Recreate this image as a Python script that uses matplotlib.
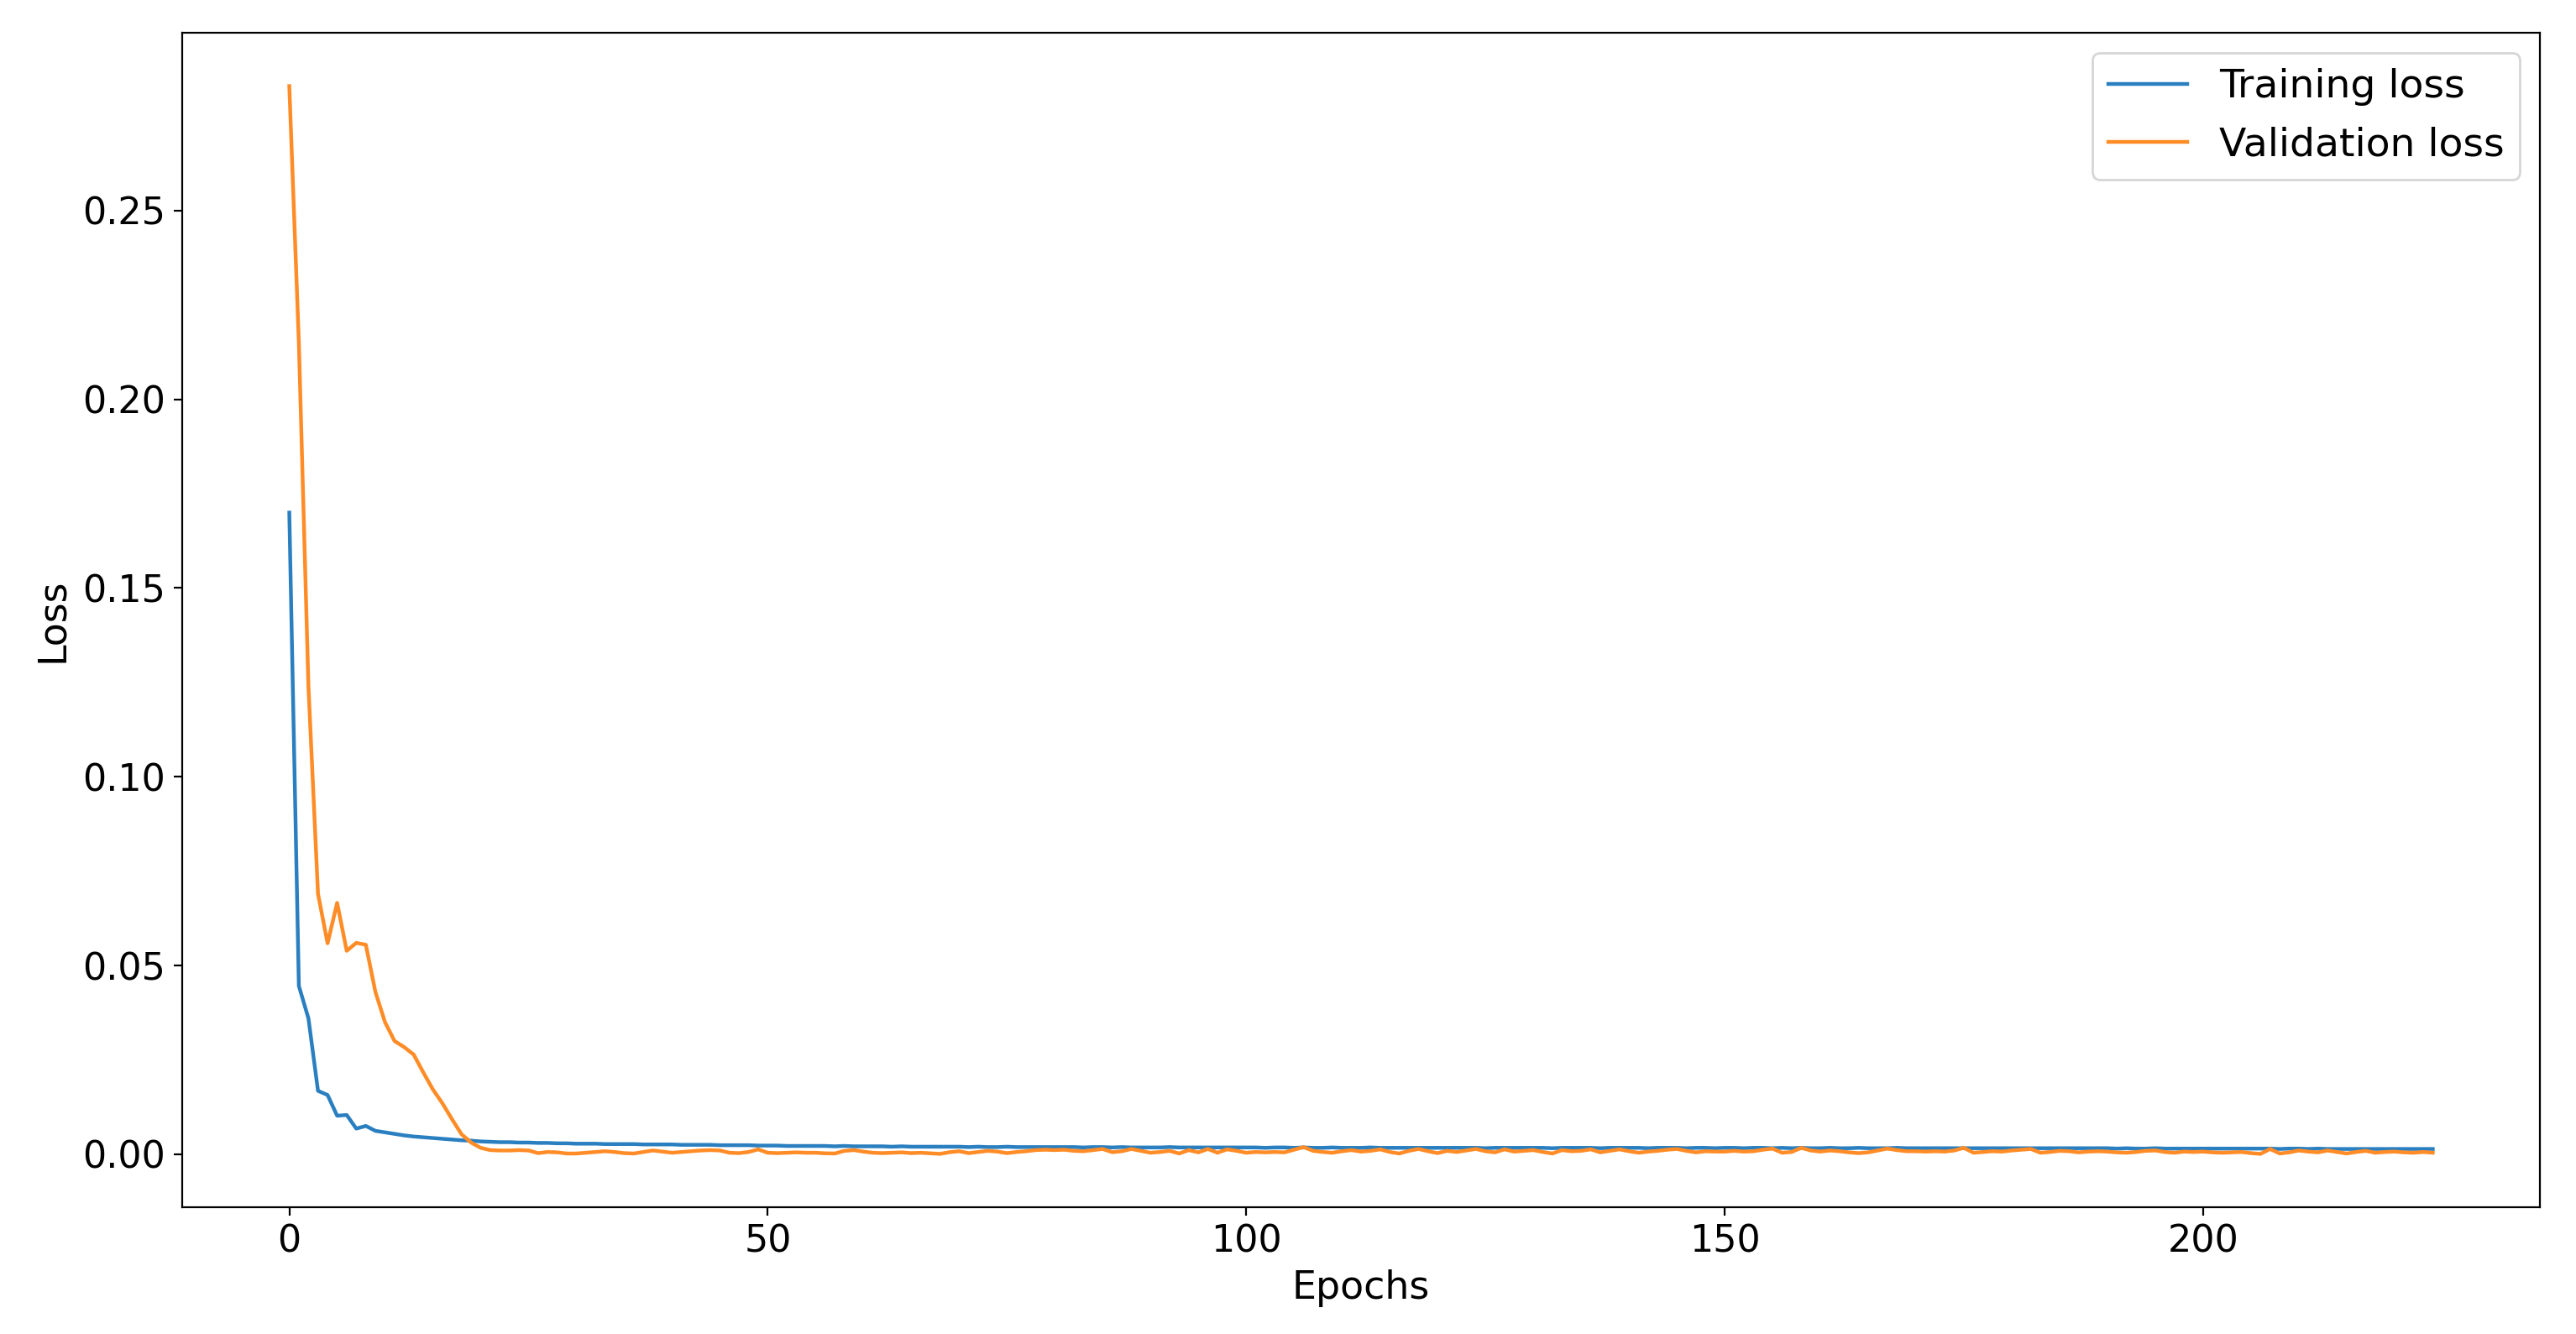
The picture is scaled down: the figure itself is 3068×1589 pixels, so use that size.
import numpy as np
import matplotlib
matplotlib.use('Agg')
import matplotlib.pyplot as plt

# 训练损失 (epoch 0-224)
train_loss = [
    0.170, 0.0446, 0.036, 0.0168, 0.0157, 0.0102, 0.0104, 0.0068, 0.0075, 0.0062,
    0.0058, 0.0054, 0.0050, 0.0047, 0.0045, 0.0043, 0.0041, 0.0039, 0.0037, 0.0036,
    0.0034, 0.0033, 0.0032, 0.0032, 0.0031, 0.0031, 0.0030, 0.0030, 0.0029, 0.0029,
    0.0028, 0.0028, 0.0028, 0.0027, 0.0027, 0.0027, 0.0027, 0.0026, 0.0026, 0.0026,
    0.0026, 0.0025, 0.0025, 0.0025, 0.0025, 0.0024, 0.0024, 0.0024, 0.0024, 0.0023,
    0.0023, 0.0023, 0.0022, 0.0022, 0.0022, 0.0022, 0.0022, 0.0021, 0.0022, 0.0021,
    0.0021, 0.0021, 0.0021, 0.0020, 0.0021, 0.0020, 0.0020, 0.0020, 0.0020, 0.0020,
    0.0020, 0.0019, 0.0020, 0.0019, 0.0019, 0.0020, 0.0019, 0.0019, 0.0019, 0.0019,
    0.0019, 0.0019, 0.0019, 0.0018, 0.0019, 0.0019, 0.0018, 0.0019, 0.0018, 0.0018,
    0.0018, 0.0018, 0.0019, 0.0018, 0.0018, 0.0018, 0.0018, 0.0018, 0.0018, 0.0018,
    0.0018, 0.0018, 0.0017, 0.0018, 0.0018, 0.0017, 0.0018, 0.0017, 0.0017, 0.0018,
    0.0017, 0.0017, 0.0017, 0.0018, 0.0017, 0.0017, 0.0017, 0.0017, 0.0017, 0.0017,
    0.0017, 0.0017, 0.0017, 0.0017, 0.0017, 0.0016, 0.0017, 0.0017, 0.0017, 0.0017,
    0.0017, 0.0017, 0.0016, 0.0017, 0.0017, 0.0017, 0.0017, 0.0016, 0.0017, 0.0017,
    0.0017, 0.0017, 0.0016, 0.0017, 0.0017, 0.0017, 0.0016, 0.0017, 0.0017, 0.0016,
    0.0017, 0.0017, 0.0016, 0.0017, 0.0017, 0.0016, 0.0017, 0.0016, 0.0017, 0.0016,
    0.0016, 0.0017, 0.0016, 0.0016, 0.0017, 0.0016, 0.0016, 0.0016, 0.0017, 0.0016,
    0.0016, 0.0016, 0.0016, 0.0016, 0.0016, 0.0016, 0.0016, 0.0016, 0.0016, 0.0016,
    0.0016, 0.0016, 0.0016, 0.0016, 0.0016, 0.0016, 0.0016, 0.0016, 0.0016, 0.0016,
    0.0016, 0.0015, 0.0016, 0.0015, 0.0015, 0.0016, 0.0015, 0.0015, 0.0015, 0.0015,
    0.0015, 0.0015, 0.0015, 0.0015, 0.0015, 0.0015, 0.0015, 0.0015, 0.0014, 0.0015,
    0.0015, 0.0014, 0.0015, 0.0014, 0.0014, 0.0014, 0.0014, 0.0014, 0.0014, 0.0014,
    0.0014, 0.0014, 0.0014, 0.0014, 0.0014,
]

# 验证损失 (epoch 0-224)
val_loss = [
    0.283, 0.215, 0.124, 0.069, 0.0559, 0.0666, 0.0539, 0.056, 0.0555, 0.043,
    0.035, 0.030, 0.0284, 0.0264, 0.0217, 0.0172, 0.0135, 0.0093, 0.0053, 0.0031,
    0.0017, 0.0011, 0.0010, 0.0010, 0.0011, 0.0010, 0.0003, 0.0006, 0.0005, 0.0002,
    0.0002, 0.0004, 0.0006, 0.0008, 0.0006, 0.0003, 0.0002, 0.0006, 0.0010, 0.0007,
    0.0004, 0.0006, 0.0008, 0.0010, 0.0011, 0.0010, 0.0004, 0.0003, 0.0006, 0.0013,
    0.0004, 0.0003, 0.0004, 0.0005, 0.0004, 0.0004, 0.00025, 0.0002, 0.0009, 0.0011,
    0.0007, 0.0004, 0.0003, 0.0004, 0.0005, 0.0003, 0.0004, 0.00025, 0.0001, 0.00055,
    0.0008, 0.0003, 0.0006, 0.0009, 0.0007, 0.0003, 0.0006, 0.0008, 0.0011, 0.0012,
    0.0011, 0.0012, 0.0009, 0.0008, 0.0011, 0.0014, 0.00055, 0.0008, 0.0014, 0.0009,
    0.0004, 0.0006, 0.0009, 0.0002, 0.0011, 0.0005, 0.0014, 0.0004, 0.0013, 0.0009,
    0.0004, 0.0006, 0.0005, 0.0006, 0.0005, 0.0012, 0.0019, 0.0009, 0.0006, 0.0004,
    0.0008, 0.0011, 0.0007, 0.0009, 0.0013, 0.0006, 0.0002, 0.0009, 0.0014, 0.0008,
    0.0003, 0.0009, 0.0006, 0.0010, 0.0014, 0.0008, 0.0005, 0.0013, 0.0007, 0.0009,
    0.0011, 0.0006, 0.0002, 0.0011, 0.0008, 0.0009, 0.0013, 0.0005, 0.0009, 0.0013,
    0.0008, 0.0004, 0.0007, 0.0009, 0.0012, 0.0014, 0.0009, 0.0005, 0.0008, 0.0007,
    0.0007, 0.0009, 0.0007, 0.0008, 0.0012, 0.0015, 0.0004, 0.0006, 0.0017, 0.0010,
    0.0007, 0.0010, 0.0008, 0.0005, 0.0003, 0.0005, 0.0010, 0.0015, 0.0011, 0.0008,
    0.0008, 0.0007, 0.0008, 0.0007, 0.0010, 0.0017, 0.0004, 0.0006, 0.0008, 0.0007,
    0.0010, 0.0012, 0.0014, 0.0004, 0.0006, 0.0009, 0.0008, 0.0005, 0.0007, 0.0008,
    0.0007, 0.0005, 0.0004, 0.0006, 0.0009, 0.0010, 0.0006, 0.0004, 0.0007, 0.0006,
    0.0007, 0.0005, 0.0004, 0.0005, 0.0006, 0.0003, 0.0001, 0.0014, 0.0002, 0.0005,
    0.0010, 0.0007, 0.0005, 0.0010, 0.0006, 0.0002, 0.0006, 0.0009, 0.0004, 0.0006,
    0.0007, 0.0005, 0.0004, 0.0006, 0.0004,
]

epochs = np.arange(len(train_loss))

fig, ax = plt.subplots(figsize=(15.34, 7.945), dpi=200)
fig.subplots_adjust(left=0.0707, right=0.986, top=0.9755, bottom=0.095)

ax.plot(epochs, train_loss, color='#2a7fc0', lw=1.6, label='Training loss')
ax.plot(epochs, val_loss, color='#ff8c26', lw=1.6, label='Validation loss')

ax.set_xlabel('Epochs', fontsize=16.5, labelpad=4)
ax.set_ylabel('Loss', fontsize=16.5, labelpad=5)
ax.tick_params(labelsize=16)
ax.legend(loc='upper right', fontsize=17)

fig.savefig('out.png', dpi=200)
